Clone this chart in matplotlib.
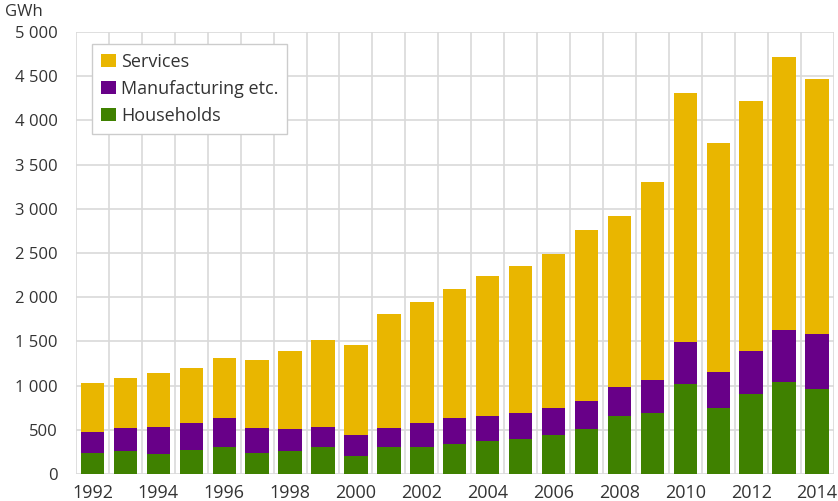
import numpy as np
import matplotlib.pyplot as plt
from matplotlib.ticker import FuncFormatter

plt.rcParams['font.family'] = ['Open Sans', 'DejaVu Sans']

years = np.arange(1992, 2015)

households = [241, 256, 230, 271, 302, 241, 256, 302, 204, 302, 302, 343,
              369, 396, 437, 509, 660, 686, 1021, 743, 908, 1044, 961]
# cumulative tops of the manufacturing and services segments
manufacturing_top = [478, 520, 535, 577, 633, 520, 509, 535, 437, 520, 573, 630,
                     660, 690, 743, 826, 980, 1059, 1489, 1157, 1391, 1625, 1583]
total = [1033, 1086, 1142, 1199, 1308, 1293, 1391, 1515, 1459, 1810, 1945, 2092,
         2239, 2352, 2488, 2760, 2918, 3303, 4306, 3740, 4222, 4713, 4471]

households = np.array(households)
manufacturing = np.array(manufacturing_top) - households
services = np.array(total) - np.array(manufacturing_top)

c_serv = '#e9b600'
c_manu = '#680088'
c_home = '#3f8100'
grid_c = '#d9d9d9'
text_c = '#333333'

fig = plt.figure(figsize=(8.38, 5.01), dpi=100)
ax = fig.add_axes([76 / 838, 27 / 501, 757.5 / 838, 442 / 501])

w = 0.71
b1 = ax.bar(years, households, w, color=c_home, label='Households')
b2 = ax.bar(years, manufacturing, w, bottom=households, color=c_manu,
            label='Manufacturing etc.')
b3 = ax.bar(years, services, w, bottom=households + manufacturing, color=c_serv,
            label='Services')

ax.set_xlim(1991.5, 2014.5)
ax.set_ylim(0, 5000)
ax.set_yticks(np.arange(0, 5001, 500))
ax.yaxis.set_major_formatter(FuncFormatter(lambda v, p: f'{int(v):,}'.replace(',', ' ')))
ax.set_xticks(years[::2])
ax.set_xticks(np.arange(1991.5, 2015, 1), minor=True)

ax.set_axisbelow(True)
ax.grid(axis='y', which='major', color=grid_c, lw=1.2)
ax.grid(axis='x', which='minor', color=grid_c, lw=1.2)
ax.grid(axis='x', which='major', visible=False)
for s in ax.spines.values():
    s.set_visible(False)

ax.tick_params(which='both', length=0, colors=text_c)
ax.tick_params(axis='y', pad=13, labelsize=12)
ax.tick_params(axis='x', pad=7, labelsize=13)

leg = ax.legend(handles=[b3, b2, b1], loc='upper left',
                bbox_to_anchor=(0.021, 0.973), borderaxespad=0,
                fontsize=13, fancybox=False, framealpha=1, edgecolor='#cccccc',
                handlelength=0.85, handleheight=0.7, handletextpad=0.25,
                labelspacing=0.5, borderpad=0.5)
leg.get_frame().set_linewidth(1.0)
for t in leg.get_texts():
    t.set_color(text_c)

fig.text(5 / 838, 1 - 12 / 501, 'GWh', fontsize=12, color=text_c, va='center', ha='left')

fig.savefig('out.png', dpi=100)
